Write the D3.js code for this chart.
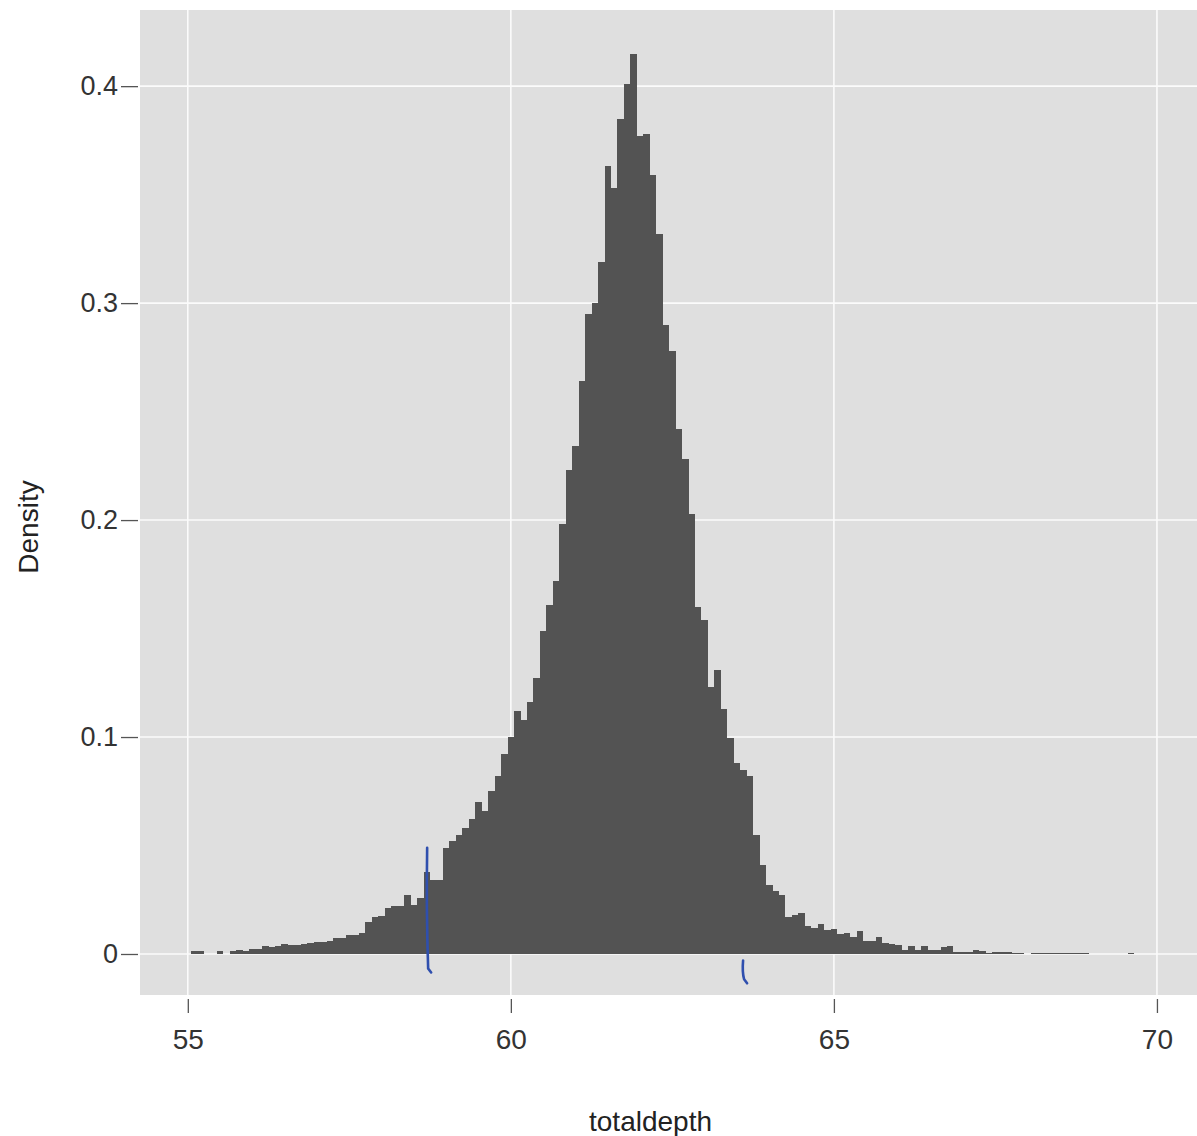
<!DOCTYPE html>
<html>
<head>
<meta charset="utf-8">
<script src="https://cdn.jsdelivr.net/npm/d3@7"></script>
<style>
  body { margin: 0; background: #fff; }
  text { font-family: "Liberation Sans", Arial, sans-serif; }
</style>
</head>
<body>
<div id="svgcontainer"></div>
<script>
// histogram of totaldepth, binwidth 0.1, bins centred on 55.0 ... 69.9
var binStart = 55.0
var binWidth = 0.1
var density = [
  0, 0.0012, 0.0012, 0, 0, 0.0012, 0, 0.0015, 0.0018, 0.0015,           // 55.0 - 55.9
  0.0022, 0.0025, 0.0035, 0.003, 0.0035, 0.0045, 0.004, 0.0042, 0.0046, 0.005, // 56.x
  0.0055, 0.0055, 0.0062, 0.0074, 0.0074, 0.0088, 0.0088, 0.0097, 0.0147, 0.017, // 57.x
  0.0175, 0.021, 0.022, 0.022, 0.027, 0.0226, 0.026, 0.038, 0.034, 0.034,  // 58.x
  0.049, 0.052, 0.055, 0.058, 0.062, 0.070, 0.066, 0.075, 0.082, 0.092,    // 59.x
  0.100, 0.112, 0.108, 0.116, 0.127, 0.149, 0.161, 0.172, 0.198, 0.223,    // 60.x
  0.234, 0.264, 0.295, 0.300, 0.319, 0.363, 0.353, 0.385, 0.401, 0.415,    // 61.x
  0.377, 0.378, 0.359, 0.332, 0.290, 0.278, 0.242, 0.228, 0.203, 0.160,    // 62.x
  0.154, 0.123, 0.131, 0.113, 0.0995, 0.088, 0.085, 0.082, 0.055, 0.041,   // 63.x
  0.032, 0.029, 0.027, 0.017, 0.018, 0.019, 0.013, 0.012, 0.014, 0.011,    // 64.x
  0.0115, 0.009, 0.0095, 0.008, 0.0105, 0.006, 0.006, 0.008, 0.005, 0.0045, // 65.x
  0.004, 0.002, 0.0037, 0.002, 0.0038, 0.0018, 0.0018, 0.003, 0.0038, 0.0011, // 66.x
  0.001, 0.0008, 0.002, 0.0014, 0.0006, 0.001, 0.001, 0.001, 0.0006, 0.0005,  // 67.x
  0, 0.0005, 0.0004, 0.0004, 0.0004, 0.0005, 0.0005, 0.0004, 0.0005, 0.0003,  // 68.x
  0, 0, 0, 0, 0, 0, 0.0005, 0, 0, 0                                         // 69.x
]
var xTicks = [55, 60, 65, 70]
var yTicks = [0, 0.1, 0.2, 0.3, 0.4]
var yTickLabels = ["0", "0.1", "0.2", "0.3", "0.4"]
// pen marks on the scanned page (x in data units, y range in density)
var penMarks = [
  {x: 58.72, y0: 0.049, y1: -0.0085},
  {x: 63.61, y0: -0.003, y1: -0.0135}
]

var width = 1197, height = 1136
var panel = {left: 140, right: 1197, top: 10, bottom: 995}

var svg = d3.select("#svgcontainer").append("svg")
    .attr("width", width)
    .attr("height", height)

svg.append("rect")
    .attr("width", width)
    .attr("height", height)
    .attr("fill", "#fff")

var x = d3.scaleLinear().domain([54.26, 70.62]).range([panel.left, panel.right])
var y = d3.scaleLinear().domain([-0.0189, 0.4351]).range([panel.bottom, panel.top])

svg.append("rect")
    .attr("x", panel.left)
    .attr("y", panel.top)
    .attr("width", panel.right - panel.left)
    .attr("height", panel.bottom - panel.top)
    .attr("fill", "#dfdfdf")

var grid = svg.append("g").attr("class", "grid")
grid.selectAll("line.gx")
    .data(xTicks)
    .enter().append("line")
    .attr("class", "gx")
    .attr("x1", d => x(d)).attr("x2", d => x(d))
    .attr("y1", panel.top).attr("y2", panel.bottom)
    .attr("stroke", "#fbfbfb")
    .attr("stroke-width", 1.6)
grid.selectAll("line.gy")
    .data(yTicks)
    .enter().append("line")
    .attr("class", "gy")
    .attr("y1", d => y(d)).attr("y2", d => y(d))
    .attr("x1", panel.left).attr("x2", panel.right)
    .attr("stroke", "#fbfbfb")
    .attr("stroke-width", 1.6)

var bins = density.map(function(d, i) {
  return {x0: binStart + i * binWidth - binWidth / 2, x1: binStart + i * binWidth + binWidth / 2, v: d}
}).filter(d => d.v > 0)

svg.append("g").attr("class", "bars")
    .attr("shape-rendering", "crispEdges")
    .selectAll("rect")
    .data(bins)
    .enter().append("rect")
    .attr("x", d => Math.round(x(d.x0)))
    .attr("width", d => Math.round(x(d.x1)) - Math.round(x(d.x0)))
    .attr("y", d => y(d.v))
    .attr("height", d => y(0) - y(d.v))
    .attr("fill", "#535353")

// pen marks
svg.append("g").attr("class", "pen")
    .selectAll("path")
    .data(penMarks)
    .enter().append("path")
    .attr("d", function(d) {
      var xx = x(d.x), ya = y(d.y0), yb = y(d.y1)
      return "M" + (xx - 1) + "," + ya + " Q" + (xx - 2) + "," + ((ya + yb) / 2) + " " + xx + "," + (yb - 4) +
        " L" + (xx + 3) + "," + yb
    })
    .attr("fill", "none")
    .attr("stroke", "#2f4fae")
    .attr("stroke-width", 2.6)
    .attr("stroke-linecap", "round")

// axes
var yAxis = d3.axisLeft(y)
    .tickValues(yTicks)
    .tickFormat((d, i) => yTickLabels[i])
    .tickSize(17)
    .tickPadding(3)
var gy = svg.append("g")
    .attr("transform", "translate(" + (panel.left - 2) + ",0)")
    .call(yAxis)
gy.select(".domain").remove()
gy.selectAll("line").attr("stroke", "#555").attr("stroke-width", 1.3)
gy.selectAll("text")
    .attr("font-size", 27)
    .attr("fill", "#333")
    .attr("font-family", "Liberation Sans, Arial, sans-serif")

var xAxis = d3.axisBottom(x)
    .tickValues(xTicks)
    .tickFormat(d3.format("d"))
    .tickSize(14)
    .tickPadding(16)
var gx = svg.append("g")
    .attr("transform", "translate(0," + (panel.bottom + 4) + ")")
    .call(xAxis)
gx.select(".domain").remove()
gx.selectAll("line").attr("stroke", "#555").attr("stroke-width", 1.3)
gx.selectAll("text")
    .attr("font-size", 28)
    .attr("fill", "#333")
    .attr("font-family", "Liberation Sans, Arial, sans-serif")

svg.append("text")
    .attr("x", (panel.left + panel.right) / 2 - 18)
    .attr("y", 1131)
    .attr("text-anchor", "middle")
    .attr("font-size", 28)
    .attr("fill", "#222")
    .text("totaldepth")

svg.append("text")
    .attr("transform", "translate(38," + 527 + ") rotate(-90)")
    .attr("text-anchor", "middle")
    .attr("font-size", 28)
    .attr("fill", "#222")
    .text("Density")
</script>
</body>
</html>
